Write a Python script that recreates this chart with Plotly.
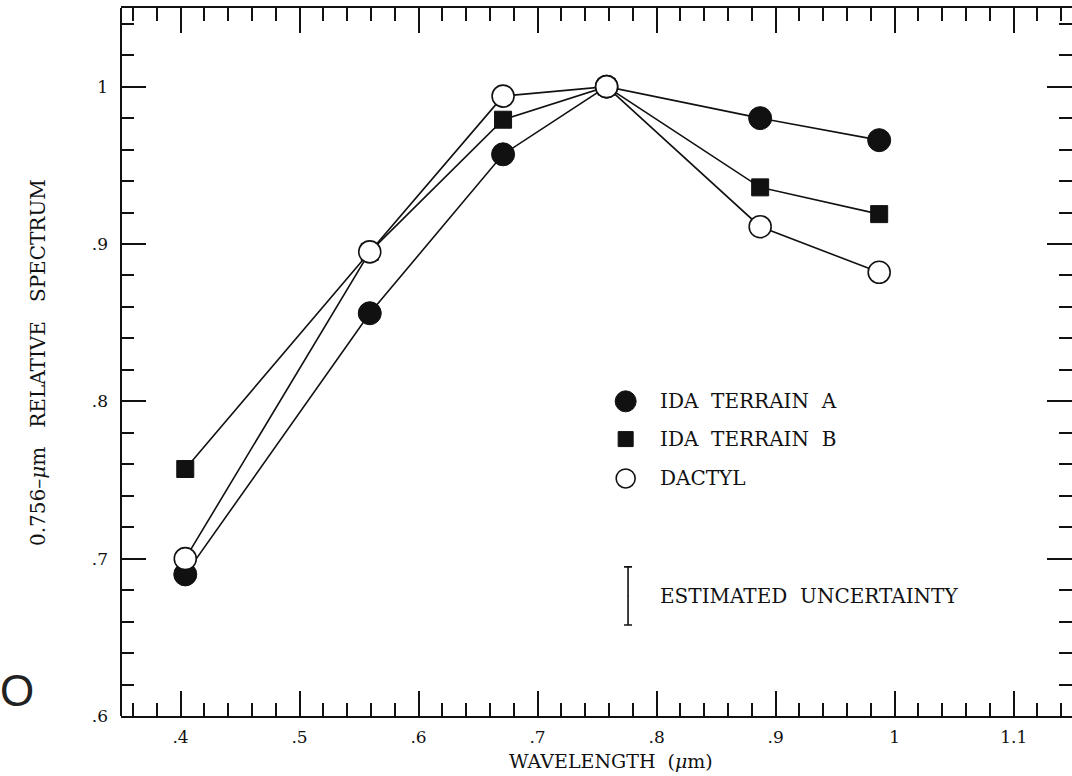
import plotly.graph_objects as go

# Filter wavelengths (micrometres) and spectra normalised at 0.756 um
wavelength = [0.404, 0.559, 0.671, 0.758, 0.887, 0.987]
ida_terrain_a = [0.690, 0.856, 0.957, 1.000, 0.980, 0.966]
ida_terrain_b = [0.757, 0.895, 0.979, 1.000, 0.936, 0.919]
dactyl = [0.700, 0.895, 0.994, 1.000, 0.911, 0.882]

series_names = ["IDA  TERRAIN  A", "IDA  TERRAIN  B", "DACTYL"]

x_tick_vals = [0.4, 0.5, 0.6, 0.7, 0.8, 0.9, 1.0, 1.1]
x_tick_text = [".4", ".5", ".6", ".7", ".8", ".9", "1", "1.1"]
y_tick_vals = [0.6, 0.7, 0.8, 0.9, 1.0]
y_tick_text = [".6", ".7", ".8", ".9", "1"]

# Size of the estimated uncertainty bar (full span, relative units)
uncertainty = 0.037

SERIF = "DejaVu Serif"
INK = "#111111"

W, H = 1072, 776
ML, MR, MT, MB = 121, 0, 8, 60
X_RANGE = [0.35, 1.149]
Y_RANGE = [0.6, 1.05]

styles = [
    dict(symbol="circle", size=23, color=INK, line=dict(color=INK, width=1)),
    dict(symbol="square", size=17, color=INK, line=dict(color=INK, width=1)),
    dict(symbol="circle-open", size=22, color=INK, line=dict(color=INK, width=1.6)),
]

fig = go.Figure()

for name, vals, mk in zip(series_names, [ida_terrain_a, ida_terrain_b, dactyl], styles):
    fig.add_trace(go.Scatter(
        x=wavelength, y=vals, mode="lines",
        line=dict(color=INK, width=1.6), showlegend=False, hoverinfo="skip"))
for name, vals, mk in zip(series_names, [ida_terrain_a, ida_terrain_b, dactyl], styles):
    m = dict(mk)
    if m["symbol"] == "circle-open":
        m = dict(symbol="circle", size=mk["size"], color="white",
                 line=dict(color=INK, width=1.6))
    fig.add_trace(go.Scatter(
        x=wavelength, y=vals, mode="markers", marker=m,
        name=name, showlegend=False))

# Key: symbols with their labels
key_x = 0.774
key_y = [0.800, 0.776, 0.751]
for name, y, mk in zip(series_names, key_y, styles):
    m = dict(mk)
    if m["symbol"] == "circle-open":
        m = dict(symbol="circle", size=19, color="white",
                 line=dict(color=INK, width=1.6))
    elif m["symbol"] == "circle":
        m["size"] = 21
    else:
        m["size"] = 15
    fig.add_trace(go.Scatter(x=[key_x], y=[y], mode="markers", marker=m,
                             showlegend=False, hoverinfo="skip"))
    fig.add_annotation(x=key_x + 0.027, y=y, xref="x", yref="y",
                       text=name, showarrow=False, xanchor="left",
                       yanchor="middle",
                       font=dict(family=SERIF, size=20, color=INK))

# Estimated uncertainty bar
unc_y = 0.6763
fig.add_trace(go.Scatter(
    x=[0.776], y=[unc_y], mode="markers",
    marker=dict(size=1, color=INK),
    error_y=dict(type="constant", value=uncertainty / 2, color=INK,
                 thickness=1.6, width=4),
    showlegend=False, hoverinfo="skip"))
fig.add_annotation(x=key_x + 0.027, y=unc_y, xref="x", yref="y",
                   text="ESTIMATED  UNCERTAINTY", showarrow=False,
                   xanchor="left", yanchor="middle",
                   font=dict(family=SERIF, size=20, color=INK))

tick_common = dict(
    ticks="inside", tickcolor=INK, tickwidth=1.8, ticklen=25,
    mirror="allticks", showgrid=False, zeroline=False,
    tickfont=dict(family=SERIF, size=17, color=INK),
)

fig.update_layout(
    width=W, height=H,
    margin=dict(l=ML, r=MR, t=MT, b=MB),
    paper_bgcolor="white", plot_bgcolor="white",
    xaxis=dict(range=X_RANGE, tickvals=x_tick_vals, ticktext=x_tick_text,
               showline=True, linecolor=INK, linewidth=2,
               ticklabelstandoff=5,
               minor=dict(dtick=0.02, tick0=0, ticks="inside", ticklen=13,
                          tickcolor=INK, tickwidth=1.6, showgrid=False),
               **tick_common),
    yaxis=dict(range=Y_RANGE, tickvals=y_tick_vals, ticktext=y_tick_text,
               showline=False,
               ticklabelstandoff=12,
               minor=dict(dtick=0.02, tick0=0, ticks="inside", ticklen=13,
                          tickcolor=INK, tickwidth=1.6, showgrid=False),
               **tick_common),
)

# Left frame line (the right-hand frame runs past the page edge)
fig.add_shape(type="line", xref="paper", yref="paper", x0=0, x1=0, y0=0, y1=1,
              line=dict(color=INK, width=2))

# Axis titles
fig.add_annotation(x=611, y=761, xref="paper", yref="paper",
                   text="WAVELENGTH  (<i>μ</i>m)", showarrow=False,
                   xanchor="center", yanchor="middle",
                   font=dict(family=SERIF, size=19, color=INK))
fig.add_annotation(x=38, y=363, xref="paper", yref="paper",
                   text="0.756–<i>μ</i>m   RELATIVE   SPECTRUM", showarrow=False,
                   textangle=-90, xanchor="center", yanchor="middle",
                   font=dict(family=SERIF, size=20, color=INK))

# Stray glyph at the lower left
fig.add_annotation(x=17, y=690, xref="paper", yref="paper",
                   text="O", showarrow=False,
                   xanchor="center", yanchor="middle",
                   font=dict(family="Liberation Sans", size=44, color="#222222"))

# Convert pixel-placed annotations to paper coordinates
pw, ph = W - ML - MR, H - MT - MB
for ann in fig.layout.annotations:
    if ann.xref == "paper":
        ann.x = (ann.x - ML) / pw
        ann.y = (H - MB - ann.y) / ph

fig.write_html("out.html")
